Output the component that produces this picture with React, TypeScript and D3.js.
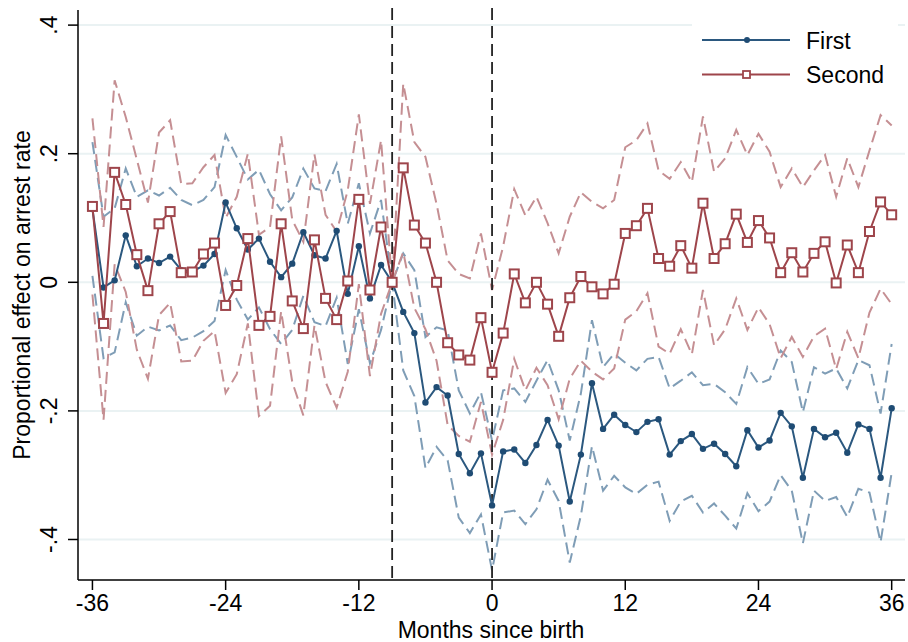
import * as d3 from 'd3';
import React, { useEffect, useRef } from 'react';

// months relative to birth
const months = d3.range(-36, 37);
const xTicks = [-36, -24, -12, 0, 12, 24, 36];
const yTicks = [0.4, 0.2, 0, -0.2, -0.4];
const yTickLabels = ['.4', '.2', '0', '-.2', '-.4'];
const refLines = [-9, 0];
const seriesNames = ['First', 'Second'];

// point estimates, -36 .. 36
const firstEst = [
  0.114, -0.008, 0.003, 0.073, 0.025, 0.037, 0.030, 0.040, 0.019, 0.017, 0.026, 0.044,
  0.124, 0.084, 0.051, 0.068, 0.032, 0.008, 0.029, 0.078, 0.042, 0.037, 0.080, -0.018,
  0.056, -0.025, 0.027, 0.000, -0.046, -0.079, -0.187, -0.163, -0.176, -0.267, -0.297, -0.266,
  -0.347, -0.263, -0.260, -0.281, -0.253, -0.214, -0.254, -0.341, -0.268, -0.157, -0.228, -0.206,
  -0.222, -0.233, -0.217, -0.213, -0.268, -0.247, -0.236, -0.259, -0.251, -0.267, -0.286, -0.230,
  -0.257, -0.246, -0.203, -0.224, -0.304, -0.228, -0.241, -0.234, -0.265, -0.221, -0.228, -0.304, -0.196,
];
// half width of the 95% band
const firstHalfWidth = [
  0.104, 0.110, 0.112, 0.104, 0.108, 0.106, 0.105, 0.107, 0.109, 0.103, 0.102, 0.104,
  0.105, 0.111, 0.109, 0.107, 0.105, 0.104, 0.103, 0.099, 0.104, 0.105, 0.104, 0.109,
  0.098, 0.101, 0.101, 0.000, 0.091, 0.098, 0.102, 0.093, 0.101, 0.099, 0.093, 0.095,
  0.101, 0.095, 0.095, 0.095, 0.100, 0.093, 0.086, 0.095, 0.095, 0.098, 0.096, 0.095,
  0.097, 0.096, 0.098, 0.097, 0.103, 0.094, 0.096, 0.099, 0.093, 0.096, 0.097, 0.098,
  0.099, 0.095, 0.097, 0.100, 0.102, 0.096, 0.099, 0.100, 0.100, 0.100, 0.099, 0.100, 0.100,
];
const secondEst = [
  0.118, -0.064, 0.171, 0.121, 0.043, -0.013, 0.091, 0.110, 0.015, 0.016, 0.044, 0.061,
  -0.036, -0.005, 0.068, -0.067, -0.053, 0.091, -0.029, -0.072, 0.066, -0.025, -0.058, 0.002,
  0.129, -0.012, 0.086, 0.000, 0.178, 0.089, 0.061, 0.000, -0.094, -0.113, -0.121, -0.055,
  -0.140, -0.079, 0.013, -0.032, 0.000, -0.034, -0.084, -0.024, 0.009, -0.007, -0.018, -0.003,
  0.076, 0.088, 0.115, 0.037, 0.025, 0.057, 0.022, 0.123, 0.037, 0.060, 0.106, 0.062,
  0.096, 0.069, 0.015, 0.046, 0.016, 0.045, 0.063, -0.001, 0.058, 0.015, 0.079, 0.125, 0.105,
];
const secondHalfWidth = [
  0.137, 0.150, 0.143, 0.136, 0.148, 0.137, 0.142, 0.142, 0.138, 0.138, 0.135, 0.137,
  0.136, 0.138, 0.132, 0.141, 0.139, 0.136, 0.126, 0.135, 0.133, 0.130, 0.137, 0.141,
  0.132, 0.134, 0.135, 0.000, 0.131, 0.129, 0.134, 0.122, 0.128, 0.126, 0.127, 0.131,
  0.128, 0.135, 0.132, 0.136, 0.133, 0.126, 0.129, 0.126, 0.131, 0.132, 0.133, 0.131,
  0.134, 0.133, 0.132, 0.137, 0.136, 0.130, 0.134, 0.135, 0.135, 0.133, 0.131, 0.136,
  0.135, 0.134, 0.133, 0.131, 0.132, 0.129, 0.135, 0.134, 0.135, 0.133, 0.126, 0.135, 0.139,
];

const W = 908;
const H = 642;
const FONT = '"Liberation Sans", Arial, sans-serif';

const App = () => {
  const ref = useRef<SVGSVGElement>(null);

  useEffect(() => {
    const svg = d3.select(ref.current);
    svg.selectAll('*').remove();

    const x = d3.scaleLinear().domain([-37.3, 37.2]).range([78, 905]);
    const y = d3.scaleLinear().domain([-0.463, 0.4235]).range([580, 10]);

    const series = [
      { name: seriesNames[0], est: firstEst, hw: firstHalfWidth, line: '#2b587f', band: '#7f9db6', marker: 'dot' },
      { name: seriesNames[1], est: secondEst, hw: secondHalfWidth, line: '#9e454b', band: '#c58f93', marker: 'square' },
    ];

    // grid
    svg.append('g').selectAll('line').data(yTicks).enter().append('line')
      .attr('x1', 78).attr('x2', 905)
      .attr('y1', (d) => y(d)).attr('y2', (d) => y(d))
      .attr('stroke', '#eaf2f3').attr('stroke-width', 2);

    const line = d3.line<[number, number]>().x((d) => x(d[0])).y((d) => y(d[1]));

    // confidence bands (dashed)
    series.forEach((s) => {
      const upper = months.map((m, i) => [m, s.est[i] + s.hw[i]] as [number, number]);
      const lower = months.map((m, i) => [m, s.est[i] - s.hw[i]] as [number, number]);
      [upper, lower].forEach((pts) => {
        svg.append('path')
          .attr('d', line(pts))
          .attr('fill', 'none')
          .attr('stroke', s.band)
          .attr('stroke-width', 2)
          .attr('stroke-dasharray', '12,6');
      });
    });

    // reference lines
    svg.append('g').selectAll('line').data(refLines).enter().append('line')
      .attr('x1', (d) => x(d)).attr('x2', (d) => x(d))
      .attr('y1', 8).attr('y2', 580)
      .attr('stroke', '#222').attr('stroke-width', 1.8)
      .attr('stroke-dasharray', '12,6');

    // estimates
    series.forEach((s) => {
      const pts = months.map((m, i) => [m, s.est[i]] as [number, number]);
      svg.append('path')
        .attr('d', line(pts))
        .attr('fill', 'none')
        .attr('stroke', s.line)
        .attr('stroke-width', 2);
      if (s.marker === 'dot') {
        svg.append('g').selectAll('circle').data(pts).enter().append('circle')
          .attr('cx', (d) => x(d[0])).attr('cy', (d) => y(d[1]))
          .attr('r', 3.2).attr('fill', '#1f4c74');
      } else {
        svg.append('g').selectAll('rect').data(pts).enter().append('rect')
          .attr('x', (d) => x(d[0]) - 4.5).attr('y', (d) => y(d[1]) - 4.5)
          .attr('width', 9).attr('height', 9)
          .attr('fill', '#fff').attr('stroke', s.line).attr('stroke-width', 2);
      }
    });

    // axes
    svg.append('line').attr('x1', 78).attr('x2', 78).attr('y1', 10).attr('y2', 580)
      .attr('stroke', '#000').attr('stroke-width', 1.5);
    svg.append('line').attr('x1', 78).attr('x2', 905).attr('y1', 580).attr('y2', 580)
      .attr('stroke', '#000').attr('stroke-width', 1.5);

    svg.append('g').selectAll('line').data(yTicks).enter().append('line')
      .attr('x1', 68).attr('x2', 78).attr('y1', (d) => y(d)).attr('y2', (d) => y(d))
      .attr('stroke', '#000').attr('stroke-width', 1.5);
    svg.append('g').selectAll('text').data(yTicks).enter().append('text')
      .attr('transform', (d) => `translate(57,${y(d)}) rotate(-90)`)
      .attr('text-anchor', 'middle')
      .style('font-family', FONT).style('font-size', '23px')
      .text((d, i) => yTickLabels[i]);

    svg.append('g').selectAll('line').data(xTicks).enter().append('line')
      .attr('x1', (d) => x(d)).attr('x2', (d) => x(d)).attr('y1', 580).attr('y2', 590)
      .attr('stroke', '#000').attr('stroke-width', 1.5);
    svg.append('g').selectAll('text').data(xTicks).enter().append('text')
      .attr('x', (d) => x(d)).attr('y', 611)
      .attr('text-anchor', 'middle')
      .style('font-family', FONT).style('font-size', '23px')
      .text((d) => String(d));

    // axis titles
    svg.append('text')
      .attr('x', 491).attr('y', 638)
      .attr('text-anchor', 'middle')
      .style('font-family', FONT).style('font-size', '23px')
      .text('Months since birth');
    svg.append('text')
      .attr('transform', 'translate(30,295) rotate(-90)')
      .attr('text-anchor', 'middle')
      .style('font-family', FONT).style('font-size', '23px')
      .text('Proportional effect on arrest rate');

    // legend
    const legend = svg.append('g');
    legend.append('rect').attr('x', 692).attr('y', 14).attr('width', 206).attr('height', 82).attr('fill', '#fff');
    series.forEach((s, i) => {
      const ly = 40 + i * 34.5;
      legend.append('line').attr('x1', 702).attr('x2', 790).attr('y1', ly).attr('y2', ly)
        .attr('stroke', s.line).attr('stroke-width', 2);
      if (s.marker === 'dot') {
        legend.append('circle').attr('cx', 747).attr('cy', ly).attr('r', 3).attr('fill', '#1f4c74');
      } else {
        legend.append('rect').attr('x', 743).attr('y', ly - 3.5).attr('width', 7).attr('height', 7)
          .attr('fill', '#fff').attr('stroke', s.line).attr('stroke-width', 1.8);
      }
      legend.append('text').attr('x', 806).attr('y', ly + 8.5)
        .style('font-family', FONT).style('font-size', '23px')
        .text(s.name);
    });
  }, []);

  return (
    <svg ref={ref} width={W} height={H} style={{ position: 'absolute', left: 0, top: 0, background: '#fff' }} />
  );
};

export default App;
